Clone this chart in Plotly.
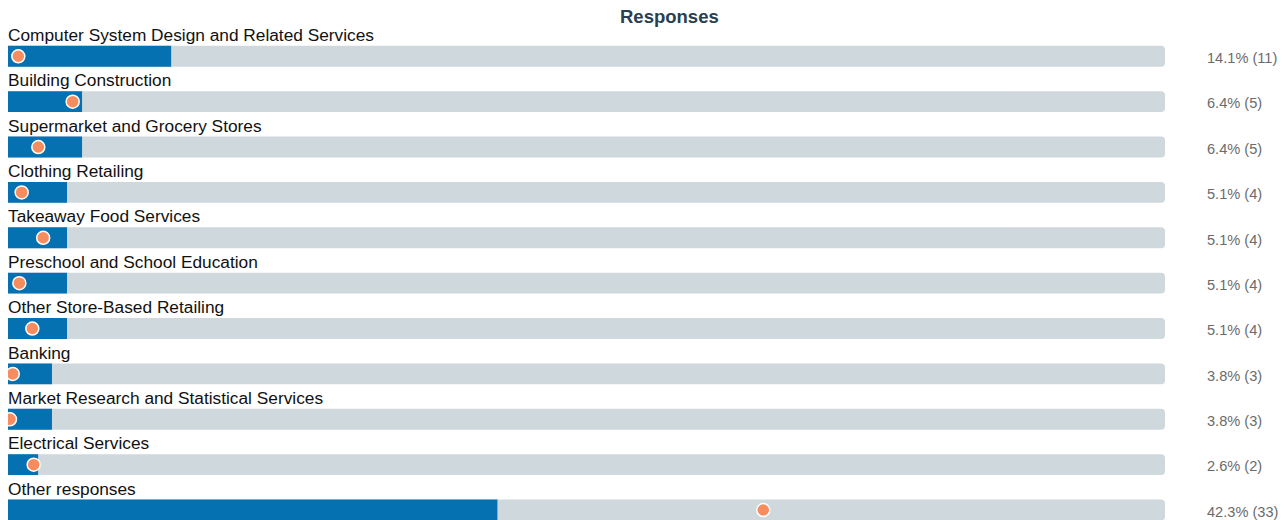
import plotly.graph_objects as go

# Survey responses by industry
categories = [
    "Computer System Design and Related Services",
    "Building Construction",
    "Supermarket and Grocery Stores",
    "Clothing Retailing",
    "Takeaway Food Services",
    "Preschool and School Education",
    "Other Store-Based Retailing",
    "Banking",
    "Market Research and Statistical Services",
    "Electrical Services",
    "Other responses",
]
percent = [14.1, 6.4, 6.4, 5.1, 5.1, 5.1, 5.1, 3.8, 3.8, 2.6, 42.3]
counts = [11, 5, 5, 4, 4, 4, 4, 3, 3, 2, 33]
# Comparison marker values (percent)
marker_values = [0.89, 5.59, 2.62, 1.18, 3.04, 0.98, 2.10, 0.41, 0.17, 2.22, 65.28]

BLUE = "#0671b0"
TRACK = "#cfd8dd"
DOT = "#f78c5f"

rows = list(range(len(categories)))
BAR_W = 0.46

fig = go.Figure()

# Background tracks (full scale)
fig.add_trace(go.Bar(
    x=[100] * len(rows), y=rows, orientation="h", width=BAR_W,
    marker=dict(color=TRACK, line=dict(width=0), cornerradius=4),
    hoverinfo="skip", showlegend=False,
))

# Response share bars
fig.add_trace(go.Bar(
    x=percent, y=rows, orientation="h", width=BAR_W,
    marker=dict(color=BLUE, line=dict(width=0)),
    customdata=counts,
    hovertemplate="%{x}% (%{customdata})<extra></extra>",
    showlegend=False,
))

# Comparison dots
fig.add_trace(go.Scatter(
    x=marker_values, y=rows, mode="markers",
    marker=dict(color=DOT, size=13, line=dict(color="white", width=1.5)),
    hoverinfo="skip", showlegend=False,
))

annotations = []
for i, (cat, p, c) in enumerate(zip(categories, percent, counts)):
    annotations.append(dict(
        x=0, y=i - 0.47, xref="x", yref="y", text=cat, showarrow=False,
        xanchor="left", yanchor="middle", xshift=-2,
        font=dict(family="Liberation Sans, Arial, sans-serif", size=17.3, color="#111111"),
    ))
    annotations.append(dict(
        x=1.0363, y=i + 0.04, xref="paper", yref="y", text=f"{p}% ({c})",
        showarrow=False, xanchor="left", yanchor="middle", xshift=-2,
        font=dict(family="Liberation Sans, Arial, sans-serif", size=14.6, color="#6b6b6b"),
    ))

annotations.append(dict(
    x=0.572, y=0.969, xref="paper", yref="paper", text="<b>Responses</b>",
    showarrow=False, xanchor="center", yanchor="middle",
    font=dict(family="Liberation Sans, Arial, sans-serif", size=18.5, color="#2a3f4f"),
))

fig.update_layout(
    width=1284, height=520,
    margin=dict(l=8, r=119, t=0, b=0),
    paper_bgcolor="white", plot_bgcolor="white",
    barmode="overlay",
    annotations=annotations,
    xaxis=dict(range=[0, 100], visible=False, fixedrange=True),
    yaxis=dict(range=[10.22, -1.24], visible=False, fixedrange=True),
)

fig.write_html("out.html")
